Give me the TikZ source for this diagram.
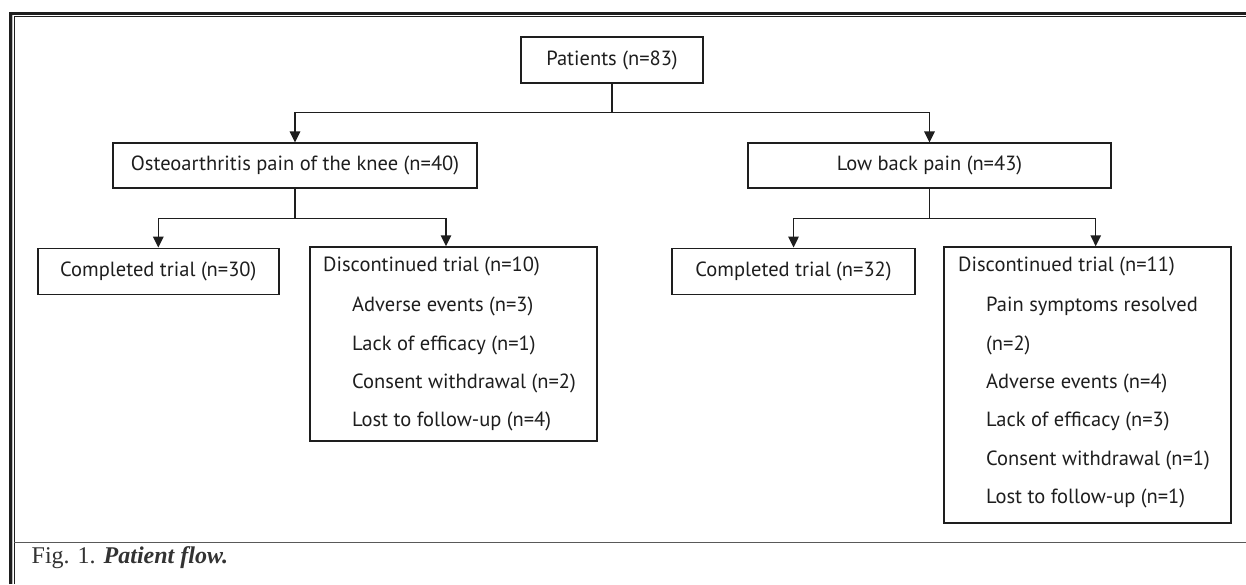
\documentclass[tikz,border=0pt]{standalone}
\usepackage{fontspec}
\setmainfont{PT Sans}
\newfontfamily\capfont{Liberation Serif}
\usetikzlibrary{arrows.meta}
\definecolor{ink}{HTML}{1E1E1E}
\tikzset{
  flowbox/.style={draw=ink, line width=1.5pt, inner sep=0pt, text=ink,
    font=\fontsize{20.5}{24}\selectfont},
  txt/.style={anchor=base west, inner sep=0pt, text=ink,
    font=\fontsize{20.5}{24}\selectfont},
  link/.style={draw=ink, line width=1.5pt},
  arrowlink/.style={link, -{Triangle[width=10.5pt,length=11pt]}},
}
\begin{document}
\begin{tikzpicture}[x=1pt,y=-1pt]
\useasboundingbox (0,0) rectangle (1246,584);
\fill[white] (0,0) rectangle (1246,584);
% frame
\fill[gray!55] (12,15) rectangle (13.4,584);
\draw[line width=3pt, ink] (10.5,584) -- (10.5,13.7) -- (1246,13.7);
\draw[line width=1pt, ink] (14,584) -- (14,16.8) -- (1246,16.8);
\draw[line width=1.2pt, black!65] (14,542.7) -- (1246,542.7);

% boxes
\node[flowbox, minimum width=182pt, minimum height=46pt] (pat) at (612,60) {Patients (n=83)};
\node[flowbox, minimum width=364pt, minimum height=45pt] (oa) at (295,165.7) {Osteoarthritis pain of the knee (n=40)};
\node[flowbox, minimum width=363pt, minimum height=45pt] (lbp) at (929.5,165.7) {Low back pain (n=43)};
\node[flowbox, minimum width=241pt, minimum height=46pt] (c30) at (158.3,271.3) {Completed trial (n=30)};
\node[flowbox, minimum width=243pt, minimum height=46pt] (c32) at (793.5,271.3) {Completed trial (n=32)};
\node[flowbox, minimum width=287pt, minimum height=194pt] (d10) at (453.5,344) {};
\node[flowbox, minimum width=287pt, minimum height=276pt] (d11) at (1087.5,385) {};

% texts of discontinued boxes
\node[txt] (d10h) at (323,271.7) {Discontinued trial (n=10)};
\node[txt] (d10a) at (352,311.7) {Adverse events (n=3)};
\node[txt] (d10b) at (352,350) {Lack of efficacy (n=1)};
\node[txt] (d10c) at (352,388.3) {Consent withdrawal (n=2)};
\node[txt] (d10d) at (352,426.7) {Lost to follow-up (n=4)};

\node[txt] (d11h) at (958,271.7) {Discontinued trial (n=11)};
\node[txt] (d11a) at (986,311.7) {Pain symptoms resolved};
\node[txt] (d11b) at (986,350) {(n=2)};
\node[txt] (d11c) at (986,388.3) {Adverse events (n=4)};
\node[txt] (d11d) at (986,426.7) {Lack of efficacy (n=3)};
\node[txt] (d11e) at (986,465) {Consent withdrawal (n=1)};
\node[txt] (d11f) at (986,503.3) {Lost to follow-up (n=1)};

% connectors
\coordinate (j0) at (612,112.7);
\coordinate (j1) at (295,218.3);
\coordinate (j2) at (929.5,218.3);
\draw[link] (pat.south) -- (j0);
\draw[arrowlink] (j0) -| (oa.north);
\draw[arrowlink] (j0) -| (lbp.north);
\draw[link] (oa.south) -- (j1);
\draw[arrowlink] (j1) -| (c30.north);
\draw[arrowlink] (j1) -| ([xshift=-7.5pt]d10.north);
\draw[link] (lbp.south) -- (j2);
\draw[arrowlink] (j2) -| (c32.north);
\draw[arrowlink] (j2) -| ([xshift=8.2pt]d11.north);

% caption
\node[anchor=base west, inner sep=0pt, text=black!80, font=\capfont\fontsize{24}{28}\selectfont] (cap) at (31.5,563.3) {Fig. 1. \textbf{\textit{Patient flow.}}};
\end{tikzpicture}
\end{document}
